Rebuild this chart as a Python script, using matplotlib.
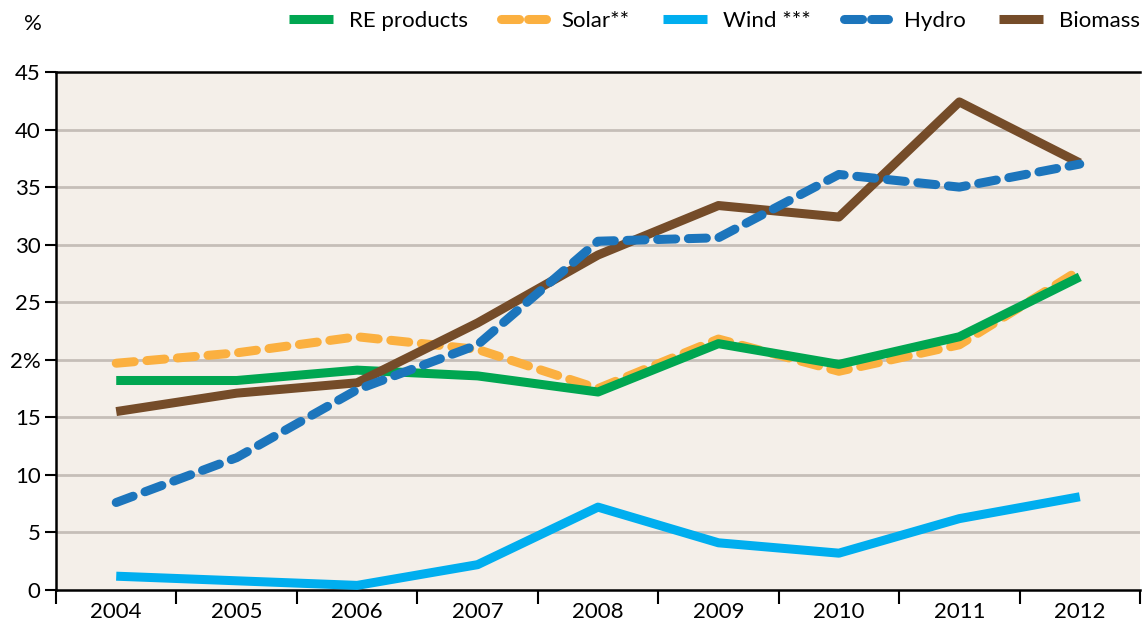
import matplotlib
matplotlib.use("Agg")
import matplotlib.pyplot as plt
from matplotlib.lines import Line2D

years = ["2004", "2005", "2006", "2007", "2008", "2009", "2010", "2011", "2012"]
re_products = [18.2, 18.2, 19.1, 18.6, 17.2, 21.4, 19.6, 22.0, 27.2]
solar = [19.7, 20.6, 22.0, 20.9, 17.5, 21.8, 19.0, 21.3, 27.8]
wind = [1.2, 0.8, 0.4, 2.2, 7.2, 4.1, 3.2, 6.2, 8.1]
hydro = [7.6, 11.5, 17.4, 21.3, 30.3, 30.6, 36.1, 35.0, 37.0]
biomass = [15.5, 17.1, 18.0, 23.2, 29.1, 33.4, 32.4, 42.4, 37.1]
yticks = [0, 5, 10, 15, 20, 25, 30, 35, 40, 45]
ytick_labels = ["0", "5", "10", "15", "2%", "25", "30", "35", "40", "45"]

C_GREEN = "#00a651"
C_SOLAR = "#fbb040"
C_WIND = "#00aeef"
C_HYDRO = "#1c75bc"
C_BIO = "#754c29"

plt.rcParams['font.family'] = ['Lato', 'DejaVu Sans']
FS = 16

fig = plt.figure(figsize=(11.42, 6.33), dpi=100)
ax = fig.add_axes([56/1142, 1 - 590/633, (1140-56)/1142, (590-72)/633])
ax.set_facecolor("#f4efe9")

x = list(range(len(years)))
lw = 6.5
dash = (2.0, 1.4)
ax.plot(x, wind, color=C_WIND, lw=lw, solid_capstyle='butt', zorder=3)
ax.plot(x, solar, color=C_SOLAR, lw=lw, dashes=dash, dash_capstyle='round', zorder=4)
ax.plot(x, re_products, color=C_GREEN, lw=lw, solid_capstyle='butt', zorder=5)
ax.plot(x, biomass, color=C_BIO, lw=lw, solid_capstyle='butt', zorder=6)
ax.plot(x, hydro, color=C_HYDRO, lw=lw, dashes=dash, dash_capstyle='round', zorder=7)

ax.set_xlim(-0.5, 8.5)
ax.set_ylim(0, 45)
ax.set_yticks(yticks)
ax.set_yticklabels(ytick_labels, fontsize=FS)
ax.set_xticks(x)
ax.set_xticklabels(years, fontsize=FS)
ax.set_xticks([i - 0.5 for i in range(len(years) + 1)], minor=True)
ax.tick_params(axis='x', which='major', length=0, pad=9)
ax.tick_params(axis='x', which='minor', length=10, width=1.5, direction='out')
ax.tick_params(axis='y', length=8, width=1.5, direction='out', pad=3)

for yv in yticks[1:-1]:
    ax.axhline(yv, color="#c5beb8", lw=2, zorder=1)

for s in ['left', 'bottom', 'top']:
    ax.spines[s].set_linewidth(1.8)
    ax.spines[s].set_color('black')
ax.spines['right'].set_visible(False)

fig.text(24/1142, 1 - 24/633, "%", fontsize=FS, va='center', ha='left')

handles = [
    Line2D([0], [0], color=C_GREEN, lw=6.5, solid_capstyle='butt'),
    Line2D([0], [0], color=C_SOLAR, lw=6.5, dashes=(2.0, 1.0), dash_capstyle='round'),
    Line2D([0], [0], color=C_WIND, lw=6.5, solid_capstyle='butt'),
    Line2D([0], [0], color=C_HYDRO, lw=6.5, dashes=(2.0, 1.0), dash_capstyle='round'),
    Line2D([0], [0], color=C_BIO, lw=6.5, solid_capstyle='butt'),
]
labels = ["RE products", "Solar**", "Wind ***", "Hydro", "Biomass"]
fig.legend(handles, labels, loc='center right', bbox_to_anchor=(1.006, 1 - 21/633),
           ncol=5, frameon=False, fontsize=FS, handlelength=2.0, columnspacing=1.5,
           handletextpad=0.7, borderaxespad=0.0)

fig.savefig("out.png", dpi=100)
